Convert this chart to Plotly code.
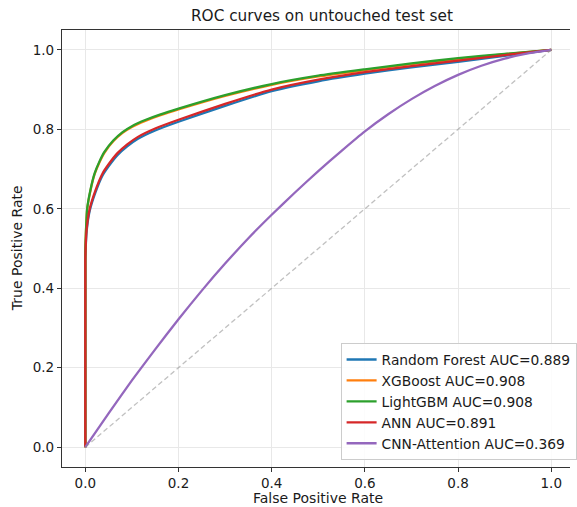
import plotly.graph_objects as go

# ---- data ----
model_names = ["Random Forest", "XGBoost", "LightGBM", "ANN", "CNN-Attention"]
auc_values = [0.889, 0.908, 0.908, 0.891, 0.369]

rf_fpr = [0, 0, 0.001, 0.003, 0.0095, 0.022, 0.037, 0.05, 0.069, 0.09, 0.113, 0.15, 0.20, 0.30, 0.40, 0.50, 0.60, 0.70, 0.80, 0.90, 1.0]
rf_tpr = [0, 0.466, 0.505, 0.545, 0.595, 0.642, 0.684, 0.707, 0.735, 0.757, 0.776, 0.797, 0.819, 0.859, 0.896, 0.921, 0.940, 0.956, 0.970, 0.985, 1.0]

xgb_fpr = [0, 0, 0.001, 0.002, 0.004, 0.011, 0.02, 0.03, 0.041, 0.06, 0.08, 0.10, 0.13, 0.16, 0.20, 0.30, 0.40, 0.50, 0.60, 0.70, 0.80, 0.90, 1.0]
xgb_tpr = [0, 0.478, 0.528, 0.558, 0.598, 0.645, 0.687, 0.716, 0.741, 0.770, 0.791, 0.806, 0.822, 0.835, 0.850, 0.884, 0.912, 0.933, 0.949, 0.964, 0.977, 0.989, 1.0]

lgb_fpr = [0, 0, 0.001, 0.002, 0.004, 0.011, 0.02, 0.03, 0.041, 0.06, 0.08, 0.10, 0.13, 0.16, 0.20, 0.30, 0.40, 0.50, 0.60, 0.70, 0.80, 0.90, 1.0]
lgb_tpr = [0, 0.48, 0.530, 0.560, 0.600, 0.647, 0.689, 0.718, 0.743, 0.772, 0.793, 0.808, 0.824, 0.837, 0.852, 0.886, 0.914, 0.935, 0.951, 0.966, 0.979, 0.990, 1.0]

ann_fpr = [0, 0, 0.001, 0.003, 0.0095, 0.022, 0.037, 0.05, 0.069, 0.09, 0.113, 0.15, 0.20, 0.30, 0.40, 0.50, 0.60, 0.70, 0.80, 0.90, 1.0]
ann_tpr = [0, 0.47, 0.510, 0.550, 0.600, 0.647, 0.689, 0.712, 0.740, 0.762, 0.781, 0.802, 0.824, 0.864, 0.900, 0.925, 0.944, 0.959, 0.973, 0.987, 1.0]

cnn_fpr = [0, 0.05, 0.10, 0.15, 0.20, 0.25, 0.30, 0.35, 0.40, 0.45, 0.50, 0.55, 0.60, 0.65, 0.70, 0.75, 0.80, 0.85, 0.90, 0.95, 1.0]
cnn_tpr = [0, 0.085, 0.168, 0.246, 0.322, 0.394, 0.462, 0.526, 0.585, 0.641, 0.695, 0.746, 0.795, 0.838, 0.876, 0.909, 0.937, 0.960, 0.978, 0.991, 1.0]

diag = [0, 1]

tick_vals = [0.0, 0.2, 0.4, 0.6, 0.8, 1.0]

colors = ["#1f77b4", "#ff7f0e", "#2ca02c", "#d62728", "#9467bd"]
series = [(rf_fpr, rf_tpr), (xgb_fpr, xgb_tpr), (lgb_fpr, lgb_tpr), (ann_fpr, ann_tpr), (cnn_fpr, cnn_tpr)]

FONT = "DejaVu Sans"
TXT = "#1a1a1a"

fig = go.Figure()
for (fx, ty), name, auc, col in zip(series, model_names, auc_values, colors):
    fig.add_trace(go.Scatter(
        x=fx, y=ty, mode="lines", name=f"{name} AUC={auc:.3f}",
        line=dict(color=col, width=2.3, shape="spline", smoothing=0.5),
    ))

fig.add_trace(go.Scatter(
    x=diag, y=diag, mode="lines", showlegend=False,
    line=dict(color="rgba(140,140,140,0.55)", width=1.3, dash="5px,3px"),
))

fig.update_layout(
    width=577, height=507,
    margin=dict(l=62, r=0, t=30, b=40),
    paper_bgcolor="white", plot_bgcolor="white",
    font=dict(family=FONT, size=13.5, color=TXT),
    title=dict(text="ROC curves on untouched test set", x=0.558, xref="container",
               xanchor="center", y=1 - 16 / 507, yref="container", yanchor="middle",
               font=dict(family=FONT, size=15.3, color=TXT)),
    showlegend=True,
    legend=dict(x=1.013, y=0.016, xanchor="right", yanchor="bottom",
                bgcolor="rgba(255,255,255,0.85)", bordercolor="#cccccc", borderwidth=1,
                font=dict(family=FONT, size=13.8, color=TXT), itemwidth=30,
                tracegroupgap=0),
    annotations=[
        dict(text="False Positive Rate", xref="paper", yref="paper",
             x=(321.8 - 62) / 515, y=(467 - 498) / 437, xanchor="center", yanchor="middle",
             showarrow=False, font=dict(family=FONT, size=14, color=TXT)),
        dict(text="True Positive Rate", xref="paper", yref="paper",
             x=(16 - 62) / 515, y=0.5, xanchor="center", yanchor="middle", textangle=-90,
             showarrow=False, font=dict(family=FONT, size=14, color=TXT)),
    ],
)

fig.update_xaxes(
    range=[-0.05, 1.0402], tickvals=tick_vals, tickformat=".1f",
    showgrid=True, gridcolor="#e8e8e8", gridwidth=1, zeroline=False,
    showline=True, linecolor="#333333", linewidth=1.2, mirror=True,
    ticks="outside", ticklen=4, tickwidth=1, tickcolor="#333333",
    tickfont=dict(family=FONT, size=13.5, color=TXT),
)
fig.update_yaxes(
    range=[-0.05, 1.05], tickvals=tick_vals, tickformat=".1f",
    showgrid=True, gridcolor="#e8e8e8", gridwidth=1, zeroline=False,
    showline=True, linecolor="#333333", linewidth=1.2, mirror=False,
    ticks="outside", ticklen=4, tickwidth=1, tickcolor="#333333",
    tickfont=dict(family=FONT, size=13.5, color=TXT),
)

fig.write_html(
    "out.html",
    config={"displayModeBar": False},
    post_script="document.body.style.margin='0';document.documentElement.style.overflow='hidden';",
)
